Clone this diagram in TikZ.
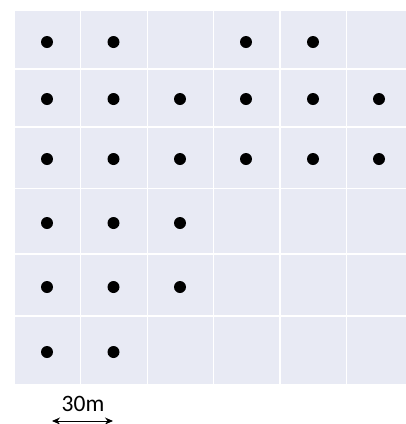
\documentclass[tikz,border=0pt]{standalone}
\usepackage{fontspec}
\setmainfont{Carlito}
\usepackage{xcolor}
\usepackage{tikz}
\usetikzlibrary{arrows.meta, positioning}
\definecolor{plotlavender}{RGB}{232,234,244}

\begin{document}
\begin{tikzpicture}[
    x=1pt, y=-1pt,
    gridline/.style={white, line width=1.6pt},
    site/.style={circle, fill=black, inner sep=0pt, minimum size=12pt},
    arrow/.style={{Stealth[length=8pt,width=7pt]}-{Stealth[length=8pt,width=7pt]}, line width=1pt},
    scalelabel/.style={inner sep=0pt, font=\fontsize{23.5}{27}\selectfont}
]
\clip (0,0) rectangle (406,424);

% plot area
\fill[plotlavender] (15,11) rectangle (412,384);
\foreach \x in {80.3,147.3,213.3,280,346.5}
    \draw[gridline] (\x,11) -- (\x,384);
\foreach \y in {68.7,126.7,188.3,254,316}
    \draw[gridline] (15,\y) -- (412,\y);

% sites
\node[site] (a1) at (47,42) {};
\node[site] (a2) at (113.5,42) {};
\node[site] (a4) at (246,42) {};
\node[site] (a5) at (313,42) {};

\node[site] (b1) at (47,99) {};
\node[site] (b2) at (113.5,99) {};
\node[site] (b3) at (180,99) {};
\node[site] (b4) at (246,99) {};
\node[site] (b5) at (313,99) {};
\node[site] (b6) at (379,99) {};

\node[site] (c1) at (47,159) {};
\node[site] (c2) at (113.5,159) {};
\node[site] (c3) at (180,159) {};
\node[site] (c4) at (246,159) {};
\node[site] (c5) at (313,159) {};
\node[site] (c6) at (379,159) {};

\node[site] (d1) at (47,223) {};
\node[site] (d2) at (113.5,223) {};
\node[site] (d3) at (180,223) {};

\node[site] (e1) at (47,287) {};
\node[site] (e2) at (113.5,287) {};
\node[site] (e3) at (180,287) {};

\node[site] (f1) at (47,352) {};
\node[site] (f2) at (113.5,352) {};

% scale bar
\coordinate (barleft) at (52,421);
\coordinate (barright) at (113,421);
\draw[arrow] (barleft) -- (barright);
\node[scalelabel] (scale) at (83,404) {30m};

\end{tikzpicture}
\end{document}
